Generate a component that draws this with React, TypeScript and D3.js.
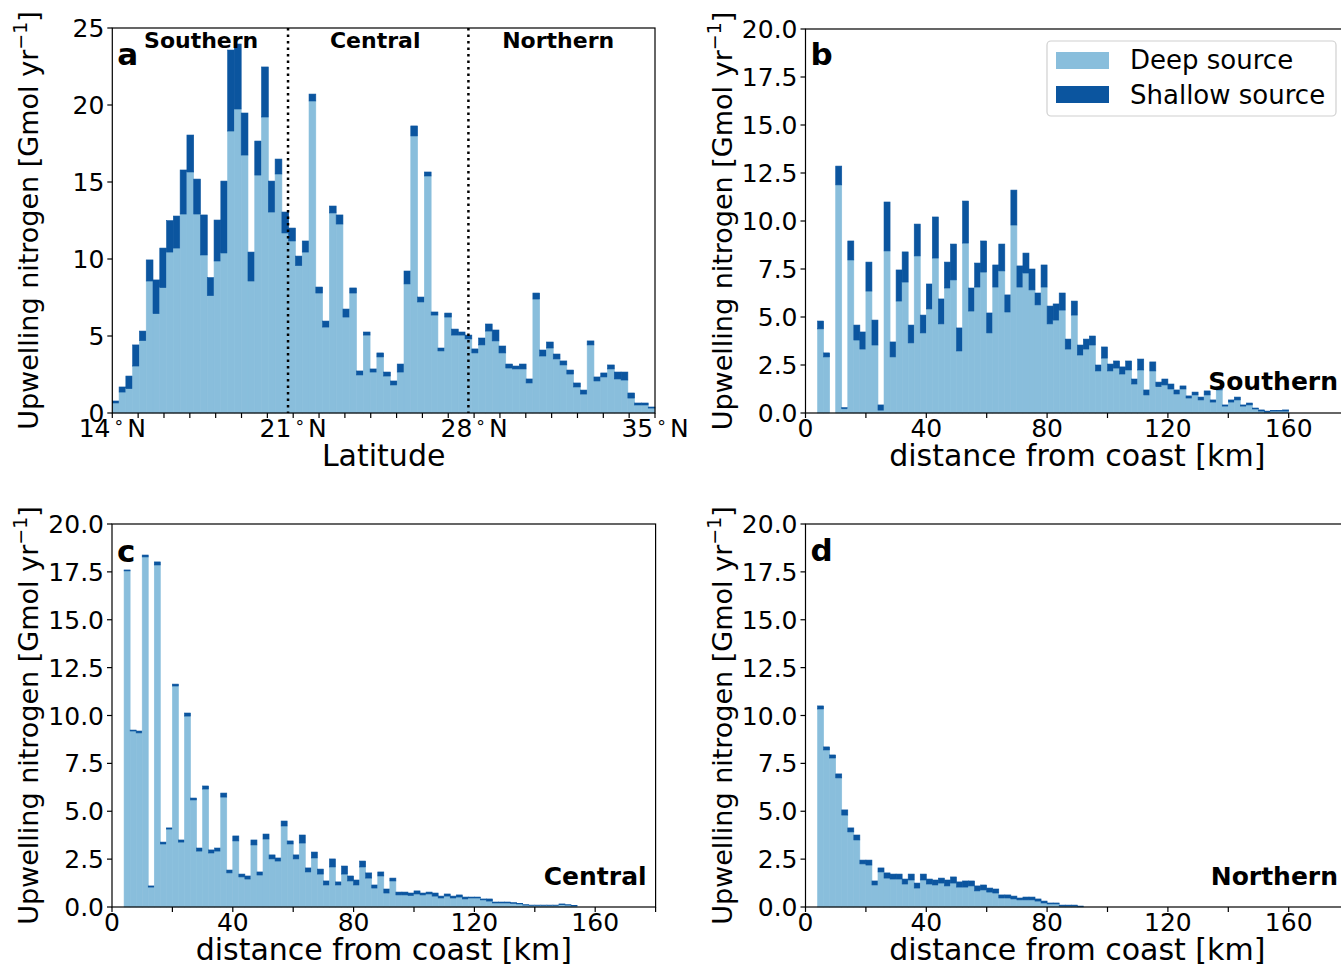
import React from 'react';
import * as d3 from 'd3';

// ---------- data ----------
const latStart = 14;
const latBinWidth = 0.2625;
const regionNames = ['Southern', 'Central', 'Northern'];
const regionBounds = [20.8, 27.78];
const latTicks = [14, 21, 28, 35];

const deepA = [0.65, 1.36, 1.58, 3.05, 4.70, 8.57, 6.45, 8.14, 10.45, 10.71, 12.92, 15.65, 12.92, 10.26, 7.62, 9.87, 10.39, 18.31, 19.74, 16.75,
  8.57, 15.45, 19.22, 13.05, 15.52, 11.69, 11.17, 9.57, 10.45, 20.26, 7.79, 5.58, 12.99, 12.27, 6.23, 7.79, 2.47, 5.06, 2.66, 3.64,
  2.40, 1.82, 2.66, 8.38, 17.99, 7.21, 15.39, 6.36, 4.03, 6.23, 5.06, 5.06, 4.81, 3.90, 4.42, 5.32, 4.68, 3.90, 2.92, 2.86,
  2.86, 1.95, 7.40, 3.70, 4.22, 3.51, 3.12, 2.53, 1.69, 1.23, 4.42, 2.08, 2.34, 2.86, 2.21, 2.14, 0.97, 0.52, 0.52, 0.32];
const shallowA = [0.13, 0.33, 0.82, 1.37, 0.62, 1.37, 2.19, 2.57, 2.04, 2.08, 2.86, 2.40, 2.27, 2.60, 1.17, 2.66, 4.67, 5.26, 4.22, 2.73,
  1.88, 2.21, 3.25, 2.01, 0.97, 1.36, 0.84, 0.62, 0.72, 0.45, 0.39, 0.39, 0.45, 0.59, 0.52, 0.33, 0.26, 0.20, 0.20, 0.26,
  0.26, 0.26, 0.52, 0.84, 0.65, 0.32, 0.26, 0.20, 0.19, 0.26, 0.39, 0.20, 0.25, 0.26, 0.45, 0.46, 0.71, 0.45, 0.26, 0.19,
  0.32, 0.26, 0.39, 0.39, 0.39, 0.32, 0.26, 0.26, 0.26, 0.26, 0.26, 0.26, 0.26, 0.26, 0.45, 0.52, 0.33, 0.13, 0.13, 0.07];

const distStart = 4;
const distBinWidth = 2;
const distTicks = [0, 40, 80, 120, 160];

const deepSouthern = [4.38, 2.92, 0, 11.88, 0.22, 7.97, 3.80, 3.33, 6.35, 3.54, 0.15, 8.44, 2.92, 5.83, 6.82, 3.65, 8.18, 4.17, 5.42, 8.07,
  4.64, 6.51, 6.93, 3.23, 8.85, 5.31, 6.56, 7.34, 4.17, 6.56, 7.40, 5.26, 9.79, 6.56, 7.29, 6.41, 5.63, 6.56, 4.64, 4.84,
  5.36, 3.33, 5.10, 3.02, 3.33, 3.54, 2.19, 2.86, 2.19, 2.34, 2.03, 2.24, 1.51, 2.24, 0.94, 2.19, 1.37, 1.46, 1.25, 0.99,
  1.25, 0.78, 0.94, 0.68, 0.94, 0.57, 1.20, 0.36, 0.57, 0.68, 0.36, 0.42, 0.21, 0.10, 0.05, 0.10, 0.10, 0.10];
const shallowSouthern = [0.41, 0.21, 0, 0.98, 0.06, 0.99, 0.78, 0.89, 1.51, 1.30, 0.27, 2.55, 0.78, 1.62, 1.57, 0.93, 1.66, 0.93, 1.30, 2.14,
  1.30, 1.35, 1.87, 1.20, 2.19, 1.20, 1.25, 1.62, 1.04, 1.15, 1.40, 0.89, 1.82, 1.10, 1.04, 1.09, 0.62, 1.15, 0.93, 0.84,
  0.89, 0.52, 0.73, 0.52, 0.52, 0.47, 0.31, 0.58, 0.36, 0.37, 0.37, 0.47, 0.26, 0.57, 0.26, 0.47, 0.24, 0.31, 0.26, 0.21,
  0.16, 0.11, 0.15, 0.15, 0.21, 0.11, 0.15, 0.06, 0.11, 0.15, 0.06, 0.10, 0.05, 0.06, 0.05, 0.04, 0.04, 0.06];

const deepCentral = [17.55, 9.19, 9.09, 18.28, 1.04, 17.86, 3.29, 4.07, 11.54, 3.39, 9.97, 5.59, 2.92, 6.16, 2.82, 2.92, 5.74, 1.78, 3.45, 1.57,
  1.46, 3.24, 1.67, 3.55, 2.51, 2.40, 4.23, 3.29, 2.51, 3.34, 1.83, 2.56, 1.72, 1.15, 2.09, 1.15, 1.72, 1.36, 1.15, 2.09,
  1.51, 0.99, 1.62, 0.73, 1.36, 0.63, 0.63, 0.60, 0.68, 0.63, 0.68, 0.57, 0.47, 0.57, 0.47, 0.52, 0.42, 0.47, 0.47, 0.37,
  0.31, 0.21, 0.21, 0.21, 0.19, 0.16, 0.10, 0.08, 0.08, 0.08, 0.08, 0.08, 0.12, 0.10, 0.06];
const shallowCentral = [0.05, 0.05, 0.10, 0.10, 0.06, 0.16, 0.10, 0.06, 0.10, 0.11, 0.16, 0.10, 0.16, 0.16, 0.16, 0.16, 0.21, 0.15, 0.26, 0.15,
  0.16, 0.26, 0.16, 0.26, 0.21, 0.16, 0.26, 0.16, 0.21, 0.42, 0.21, 0.31, 0.26, 0.21, 0.42, 0.16, 0.42, 0.26, 0.26, 0.31,
  0.27, 0.16, 0.21, 0.21, 0.15, 0.15, 0.15, 0.13, 0.16, 0.10, 0.10, 0.16, 0.10, 0.11, 0.10, 0.11, 0.10, 0.05, 0.05, 0.05,
  0.11, 0.05, 0.05, 0.05, 0.04, 0.03, 0.02, 0.02, 0.02, 0.02, 0.02, 0.02, 0.04, 0.02, 0.02];

const deepNorthern = [10.34, 8.20, 7.78, 6.74, 4.80, 3.92, 3.50, 2.25, 2.19, 1.15, 1.83, 1.51, 1.46, 1.46, 1.20, 1.41, 0.99, 1.41, 1.20, 1.15,
  1.25, 1.10, 1.25, 1.04, 1.04, 1.10, 0.84, 0.89, 0.78, 0.73, 0.47, 0.47, 0.42, 0.37, 0.37, 0.37, 0.31, 0.21, 0.16, 0.16,
  0.05, 0.05, 0.05, 0.02];
const shallowNorthern = [0.16, 0.16, 0.16, 0.21, 0.27, 0.21, 0.26, 0.20, 0.26, 0.21, 0.21, 0.27, 0.26, 0.26, 0.26, 0.31, 0.26, 0.31, 0.26, 0.26,
  0.26, 0.31, 0.32, 0.27, 0.32, 0.26, 0.26, 0.26, 0.21, 0.21, 0.16, 0.16, 0.15, 0.10, 0.15, 0.15, 0.11, 0.10, 0.05, 0.05,
  0.05, 0.05, 0.05, 0.03];

const ticksA = [0, 5, 10, 15, 20, 25];
const ticksDist = [0, 2.5, 5, 7.5, 10, 12.5, 15, 17.5, 20];

const LIGHT = '#89bedc';
const DARK = '#0b559f';
const FONT = 'DejaVu Sans, sans-serif';
const TICK_FS = 25;
const LABEL_FS = 30;

type PanelProps = {
  left: number; right: number; top: number; bottom: number;
  xDomain: [number, number]; yMax: number; yTicks: number[]; yFmt: (v: number) => string;
  xTicks: number[]; xMinor: number[]; xTickLabel: (v: number) => React.ReactNode;
  binStart: number; binWidth: number; deep: number[]; shallow: number[];
  letter: string; letterY: number; xlabel: string;
  region?: string; regionY?: number;
};

function Panel(p: PanelProps) {
  const x = d3.scaleLinear().domain(p.xDomain).range([p.left, p.right]);
  const y = d3.scaleLinear().domain([0, p.yMax]).range([p.bottom, p.top]);
  const bins = p.deep.map((d, i) => ({ x0: p.binStart + i * p.binWidth, deep: d, shallow: p.shallow[i] }));
  const yMid = (p.top + p.bottom) / 2;
  return (
    <g>
      {bins.map((b, i) => {
        const bx = x(b.x0);
        const bw = x(b.x0 + p.binWidth) - bx;
        return (
          <g key={i}>
            {b.deep > 0 && (
              <rect x={bx} width={bw} y={y(b.deep)} height={y(0) - y(b.deep)} fill={LIGHT} stroke={LIGHT} strokeWidth={0.6} />
            )}
            {b.shallow > 0 && (
              <rect x={bx} width={bw} y={y(b.deep + b.shallow)} height={y(b.deep) - y(b.deep + b.shallow)} fill={DARK} stroke={DARK} strokeWidth={0.6} />
            )}
          </g>
        );
      })}
      <rect x={p.left} y={p.top} width={p.right - p.left} height={p.bottom - p.top} fill="none" stroke="#000" strokeWidth={1.2} />
      {p.yTicks.map((t) => (
        <g key={'y' + t}>
          <line x1={p.left - 5} x2={p.left} y1={y(t)} y2={y(t)} stroke="#000" strokeWidth={1.2} />
          <text x={p.left - 8} y={y(t)} dy="0.36em" textAnchor="end" fontSize={TICK_FS} fontFamily={FONT}>{p.yFmt(t)}</text>
        </g>
      ))}
      {p.xMinor.map((t) => (
        <line key={'m' + t} x1={x(t)} x2={x(t)} y1={p.bottom} y2={p.bottom + 5} stroke="#000" strokeWidth={1.2} />
      ))}
      {p.xTicks.map((t) => (
        <g key={'x' + t}>
          <line x1={x(t)} x2={x(t)} y1={p.bottom} y2={p.bottom + 5} stroke="#000" strokeWidth={1.2} />
          <text x={x(t)} y={p.bottom + 24} textAnchor="middle" fontSize={TICK_FS} fontFamily={FONT}>{p.xTickLabel(t)}</text>
        </g>
      ))}
      <text x={(p.left + Math.min(p.right, 1350)) / 2} y={p.bottom + 53} textAnchor="middle" fontSize={LABEL_FS} fontFamily={FONT}>{p.xlabel}</text>
      <text transform={`translate(${p.left - 74},${yMid}) rotate(-90)`} textAnchor="middle" fontSize={27} fontFamily={FONT}>
        Upwelling nitrogen [Gmol yr<tspan dy={-11} fontSize={19}>−1</tspan><tspan dy={11}>]</tspan>
      </text>
      <text x={p.left + 5} y={p.letterY} fontSize={31} fontWeight="bold" fontFamily={FONT}>{p.letter}</text>
      {p.region && (
        <text x={Math.min(p.right, 1338) - (p.right > 1341 ? 0 : 9)} y={p.regionY} textAnchor="end" fontSize={25} fontWeight="bold" fontFamily={FONT}>{p.region}</text>
      )}
    </g>
  );
}

export default function App() {
  const xA = d3.scaleLinear().domain([14, 35]).range([112.3, 655]);
  const latMinor = d3.range(15, 35).filter((v) => !latTicks.includes(v));
  const distMinor = [20, 60, 100, 140, 180];
  const degLabel = (v: number) => (
    <>
      {v}
      <tspan dx={3} dy={-9} fontSize={17}>∘</tspan>
      <tspan dx={3} dy={9}>N</tspan>
    </>
  );
  const fmt1 = (v: number) => v.toFixed(1);
  const regionCenters = [
    (xA(14) + xA(regionBounds[0])) / 2 + 1,
    (xA(regionBounds[0]) + xA(regionBounds[1])) / 2 - 3,
    (xA(regionBounds[1]) + xA(35)) / 2 - 3.5,
  ];
  return (
    <svg width={1341} height={964} style={{ position: 'absolute', left: 0, top: 0, background: '#fff' }} fontFamily={FONT}>
      <rect width={1341} height={964} fill="#fff" />
      {/* panel a */}
      <Panel left={112.3} right={655} top={28} bottom={413} xDomain={[14, 35]} yMax={25} yTicks={ticksA} yFmt={(v) => String(v)}
        xTicks={latTicks} xMinor={latMinor} xTickLabel={degLabel} binStart={latStart} binWidth={latBinWidth}
        deep={deepA} shallow={shallowA} letter="a" letterY={65} xlabel="Latitude" />
      {regionBounds.map((b) => (
        <line key={b} x1={xA(b)} x2={xA(b)} y1={28} y2={413} stroke="#000" strokeWidth={2.5} strokeDasharray="2.5,4" />
      ))}
      {regionNames.map((r, i) => (
        <text key={r} x={regionCenters[i]} y={48} textAnchor="middle" fontSize={22} fontWeight="bold" fontFamily={FONT}>{r}</text>
      ))}
      {/* panel b */}
      <Panel left={805.5} right={805.5 + 180 * 3.02} top={29} bottom={413} xDomain={[0, 180]} yMax={20} yTicks={ticksDist} yFmt={fmt1}
        xTicks={distTicks} xMinor={distMinor} xTickLabel={(v) => String(v)} binStart={distStart} binWidth={distBinWidth}
        deep={deepSouthern} shallow={shallowSouthern} letter="b" letterY={65} xlabel="distance from coast [km]"
        region="Southern" regionY={390} />
      {/* legend */}
      <g>
        <rect x={1047} y={41} width={289} height={75} rx={4} fill="#fff" fillOpacity={0.8} stroke="#d0d0d0" strokeWidth={1.2} />
        <rect x={1056} y={52} width={53} height={17} fill={LIGHT} />
        <rect x={1056} y={86} width={53} height={17} fill={DARK} />
        <text x={1130} y={69} fontSize={26} fontFamily={FONT}>Deep source</text>
        <text x={1130} y={104} fontSize={26} fontFamily={FONT}>Shallow source</text>
      </g>
      {/* panel c */}
      <Panel left={112} right={112 + 180 * 3.02} top={524} bottom={907} xDomain={[0, 180]} yMax={20} yTicks={ticksDist} yFmt={fmt1}
        xTicks={distTicks} xMinor={distMinor} xTickLabel={(v) => String(v)} binStart={distStart} binWidth={distBinWidth}
        deep={deepCentral} shallow={shallowCentral} letter="c" letterY={562} xlabel="distance from coast [km]"
        region="Central" regionY={885} />
      {/* panel d */}
      <Panel left={805.5} right={805.5 + 180 * 3.02} top={524} bottom={907} xDomain={[0, 180]} yMax={20} yTicks={ticksDist} yFmt={fmt1}
        xTicks={distTicks} xMinor={distMinor} xTickLabel={(v) => String(v)} binStart={distStart} binWidth={distBinWidth}
        deep={deepNorthern} shallow={shallowNorthern} letter="d" letterY={561} xlabel="distance from coast [km]"
        region="Northern" regionY={885} />
    </svg>
  );
}
